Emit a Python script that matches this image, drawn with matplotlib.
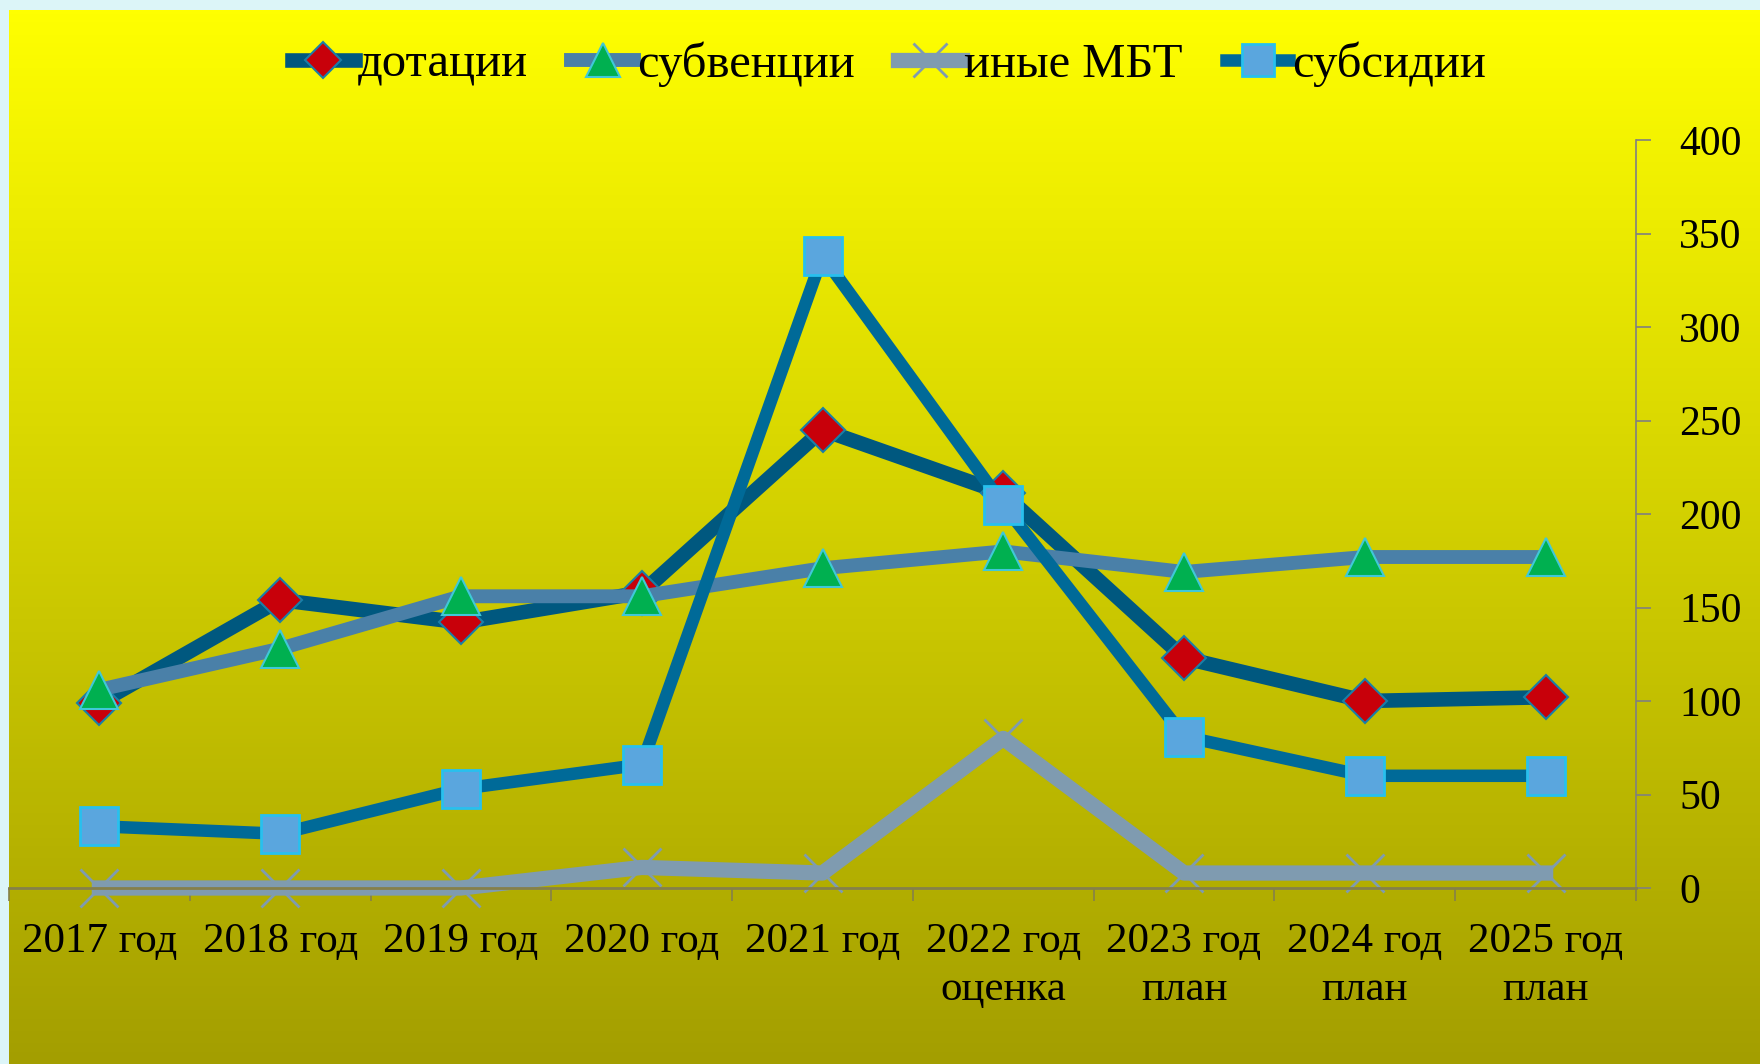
import numpy as np
import matplotlib
matplotlib.use('Agg')
import matplotlib.pyplot as plt

plt.rcParams['font.family'] = ['Liberation Serif', 'DejaVu Serif']

categories = ['2017 год', '2018 год', '2019 год', '2020 год', '2021 год',
              '2022 год\nоценка', '2023 год\nплан', '2024 год\nплан', '2025 год\nплан']
dotacii = [99, 154, 142, 158, 245, 211, 123, 100, 102]
subvencii = [106, 128, 156, 156, 171, 180, 169, 177, 177]
inye_mbt = [0, 0, 0, 11, 8, 80, 8, 8, 8]
subsidii = [33, 29, 53, 66, 338, 205, 81, 60, 60]

W, H = 1760, 1064
fig = plt.figure(figsize=(W / 100, H / 100), dpi=100)
fig.patch.set_facecolor('#dcf5f8')

# yellow gradient background
bg = fig.add_axes([9 / W, 0, 1 - 9 / W, 1 - 10 / H], zorder=0)
top = np.array([1.0, 1.0, 0.0])
bot = np.array([0.64, 0.62, 0.0])
t = np.linspace(0, 1, 256)[:, None]
grad = top + (bot - top) * t
bg.imshow(grad[:, None, :], aspect='auto', extent=[0, 1, 0, 1])
bg.axis('off')

ax = fig.add_axes([9 / W, (H - 888) / H, (1636 - 9) / W, (888 - 140) / H], zorder=1)
ax.patch.set_alpha(0)
x = np.arange(len(categories))

l4, = ax.plot(x, inye_mbt, color='#7f9bb0', lw=11, marker='x', ms=28, mew=2,
              mec='#7f9bb0', clip_on=False, zorder=2, label='иные МБТ')
l1, = ax.plot(x, dotacii, color='#00587f', lw=10.5, marker='D', ms=22,
              mfc='#c8000a', mec='#1a7fa8', mew=1.5, clip_on=False, zorder=3, label='дотации')
l2, = ax.plot(x, subvencii, color='#4a80a8', lw=10, marker='^', ms=28,
              mfc='#00b050', mec='#40c8d8', mew=1.5, clip_on=False, zorder=4, label='субвенции')
l3, = ax.plot(x, subsidii, color='#006a98', lw=9, marker='s', ms=27,
              mfc='#5aa6de', mec='#28c0ee', mew=2, clip_on=False, zorder=5, label='субсидии')

ax.set_xlim(-0.5, len(categories) - 0.5)
ax.set_ylim(0, 400)
ax.set_yticks(np.arange(0, 401, 50))
ax.yaxis.tick_right()
ax.tick_params(axis='y', which='major', length=11, width=1.2, color='#808080',
               labelsize=30, pad=20, direction='out')
ax.set_xticks(x)
ax.set_xticklabels(categories, linespacing=1.3)
ax.set_xticks(np.arange(-0.5, len(categories)), minor=True)
ax.tick_params(axis='x', which='major', length=0, labelsize=31, pad=25)
ax.tick_params(axis='x', which='minor', length=9, width=1.2, color='#85804a')

for s in ['top', 'left']:
    ax.spines[s].set_visible(False)
ax.spines['bottom'].set_color('#85804a')
ax.spines['bottom'].set_linewidth(2)
ax.spines['right'].set_color('#808080')
ax.spines['right'].set_linewidth(1.2)

handles = [l1, l2, l4, l3]
fig.legend(handles, [h.get_label() for h in handles], loc='center',
           bbox_to_anchor=(0.505, 0.94), ncol=4, frameon=False, fontsize=35,
           handlelength=1.3, handletextpad=0.05, columnspacing=0.9, markerscale=0.85)

fig.savefig('out.png', dpi=100, facecolor=fig.get_facecolor())
